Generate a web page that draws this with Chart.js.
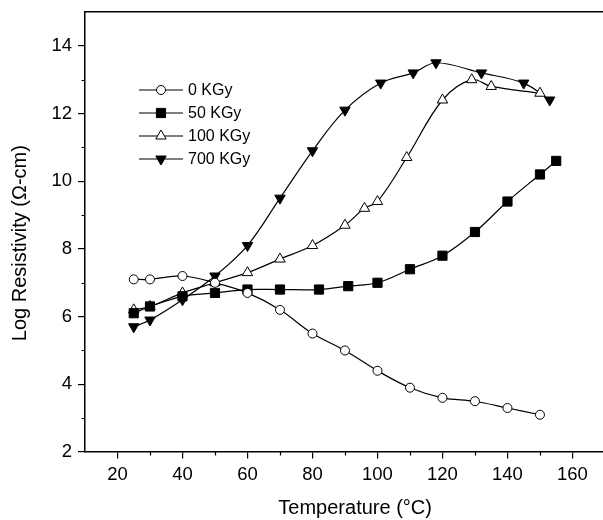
<!DOCTYPE html>
<html>
<head>
<meta charset="utf-8">
<script src="https://cdn.jsdelivr.net/npm/chart.js@4.4.0/dist/chart.umd.min.js"></script>
<style>
html, body { margin: 0; padding: 0; background: #fff; }
</style>
</head>
<body>
<canvas id="myChart" width="603" height="520"></canvas>
<script>
// data
var seriesNames = ['0 KGy', '50 KGy', '100 KGy', '700 KGy'];

var temp0 = [25, 30, 40, 50, 60, 70, 80, 90, 100, 110, 120, 130, 140, 150];
var res0  = [7.1, 7.1, 7.2, 7.0, 6.7, 6.2, 5.5, 5.0, 4.4, 3.9, 3.6, 3.5, 3.3, 3.1];

var temp50 = [25, 30, 40, 50, 60, 70, 82, 91, 100, 110, 120, 130, 140, 150, 155];
var res50  = [6.1, 6.3, 6.6, 6.7, 6.8, 6.8, 6.8, 6.9, 7.0, 7.4, 7.8, 8.5, 9.4, 10.2, 10.6];

var temp100 = [25, 30, 40, 50, 60, 70, 80, 90, 96, 100, 109, 120, 129, 135, 150];
var res100  = [6.2, 6.3, 6.7, 7.0, 7.3, 7.7, 8.1, 8.7, 9.2, 9.4, 10.7, 12.4, 13.0, 12.8, 12.6];

var temp700 = [25, 30, 40, 50, 60, 70, 80, 90, 101, 111, 118, 132, 145, 153];
var res700  = [5.7, 5.9, 6.5, 7.2, 8.1, 9.5, 10.9, 12.1, 12.9, 13.2, 13.5, 13.2, 12.9, 12.4];

var xTicks = [20, 40, 60, 80, 100, 120, 140, 160];
var xMinorTicks = [30, 50, 70, 90, 110, 130, 150];
var yTicks = [2, 4, 6, 8, 10, 12, 14];
var yMinorTicks = [3, 5, 7, 9, 11, 13];

var fontFam = '"Liberation Sans", Arial, sans-serif';

function toPoints(xs, ys) {
    return xs.map(function(x, i) { return {x: x, y: ys[i]}; });
}

function makeSet(name, xs, ys, style, fill, radius, rot) {
    return {
        label: name,
        data: toPoints(xs, ys),
        borderColor: '#000',
        borderWidth: 1.2,
        tension: 0.35,
        pointStyle: style,
        pointRadius: radius,
        pointRotation: rot,
        pointBackgroundColor: fill,
        pointBorderColor: '#000',
        pointBorderWidth: 1,
        fill: false
    };
}

function noPad(s) {
    s.paddingLeft = 0; s.paddingRight = 0; s.paddingTop = 0; s.paddingBottom = 0;
}

// short minor ticks between the labelled ones
var minorTicks = {
    id: 'minorTicks',
    afterDraw: function(chart) {
        var ctx = chart.ctx, xs = chart.scales.x, ys = chart.scales.y;
        ctx.save();
        ctx.strokeStyle = '#000';
        ctx.lineWidth = 1.2;
        ctx.beginPath();
        xMinorTicks.forEach(function(v) {
            var px = Math.round(xs.getPixelForValue(v)) + 0.5;
            ctx.moveTo(px, xs.top);
            ctx.lineTo(px, xs.top + 3.5);
        });
        yMinorTicks.forEach(function(v) {
            var py = Math.round(ys.getPixelForValue(v)) + 0.5;
            ctx.moveTo(ys.right, py);
            ctx.lineTo(ys.right - 3.5, py);
        });
        ctx.stroke();
        ctx.restore();
    }
};

// legend drawn inside the plot, line + marker + text like the original
var insideLegend = {
    id: 'insideLegend',
    afterDatasetsDraw: function(chart) {
        var ctx = chart.ctx;
        chart.data.datasets.forEach(function(ds, i) {
            var y = 90 + i * 23;
            ctx.save();
            ctx.strokeStyle = '#000';
            ctx.lineWidth = 1.2;
            ctx.beginPath();
            ctx.moveTo(139, y);
            ctx.lineTo(183, y);
            ctx.stroke();
            ctx.fillStyle = ds.pointBackgroundColor;
            ctx.lineWidth = 1;
            Chart.helpers.drawPoint(ctx, {
                pointStyle: ds.pointStyle,
                radius: ds.pointRadius,
                rotation: ds.pointRotation,
                borderWidth: 1
            }, 161, y);
            ctx.fillStyle = '#000';
            ctx.font = '16px ' + fontFam;
            ctx.textBaseline = 'middle';
            ctx.fillText(ds.label, 188, y + 1);
            ctx.restore();
        });
    }
};

var ctx = document.getElementById('myChart').getContext('2d');
var chart = new Chart(ctx, {
    type: 'line',
    data: {
        datasets: [
            makeSet(seriesNames[0], temp0, res0, 'circle', '#fff', 4.5, 0),
            makeSet(seriesNames[1], temp50, res50, 'rect', '#000', 6.5, 0),
            makeSet(seriesNames[2], temp100, res100, 'triangle', '#fff', 6, 0),
            makeSet(seriesNames[3], temp700, res700, 'triangle', '#000', 6, 180)
        ]
    },
    options: {
        responsive: false,
        animation: false,
        devicePixelRatio: 1,
        layout: { autoPadding: false, padding: { top: 12, right: 0, bottom: 0, left: 0 } },
        plugins: {
            legend: { display: false },
            tooltip: { enabled: false }
        },
        scales: {
            x: {
                type: 'linear',
                position: 'bottom',
                min: 10,
                max: 169.4,
                afterBuildTicks: function(s) { s.ticks = xTicks.map(function(v) { return {value: v}; }); },
                afterFit: function(s) { s.height = 68; noPad(s); },
                grid: { drawOnChartArea: false, drawTicks: true, tickLength: 6.5, color: '#000', lineWidth: 1.2 },
                border: { display: true, color: '#000', width: 1.5 },
                ticks: {
                    color: '#000',
                    font: { family: fontFam, size: 18.5 },
                    padding: 5,
                    maxRotation: 0,
                    autoSkip: false
                },
                title: {
                    display: true,
                    text: '\u00a0\u00a0\u00a0\u00a0Temperature (°C)',
                    color: '#000',
                    font: { family: fontFam, size: 20 },
                    padding: { top: 0, bottom: 0 }
                }
            },
            xTop: {
                type: 'linear',
                position: 'top',
                min: 10,
                max: 169.4,
                afterFit: function(s) { s.height = 0; noPad(s); },
                grid: { display: false, drawTicks: false },
                border: { display: true, color: '#000', width: 1.5 },
                ticks: { display: false }
            },
            y: {
                type: 'linear',
                min: 2,
                max: 15,
                afterBuildTicks: function(s) { s.ticks = yTicks.map(function(v) { return {value: v}; }); },
                afterFit: function(s) { s.width = 85; noPad(s); },
                grid: { drawOnChartArea: false, drawTicks: true, tickLength: 7, color: '#000', lineWidth: 1.2 },
                border: { display: true, color: '#000', width: 1.5 },
                ticks: {
                    color: '#000',
                    font: { family: fontFam, size: 18.5 },
                    padding: 6,
                    autoSkip: false
                },
                title: {
                    display: true,
                    text: 'Log Resistivity (Ω-cm)\u00a0\u00a0\u00a0\u00a0',
                    color: '#000',
                    font: { family: fontFam, size: 20 },
                    padding: { top: 8, bottom: 0 }
                }
            }
        }
    },
    plugins: [minorTicks, insideLegend]
});
</script>
</body>
</html>
